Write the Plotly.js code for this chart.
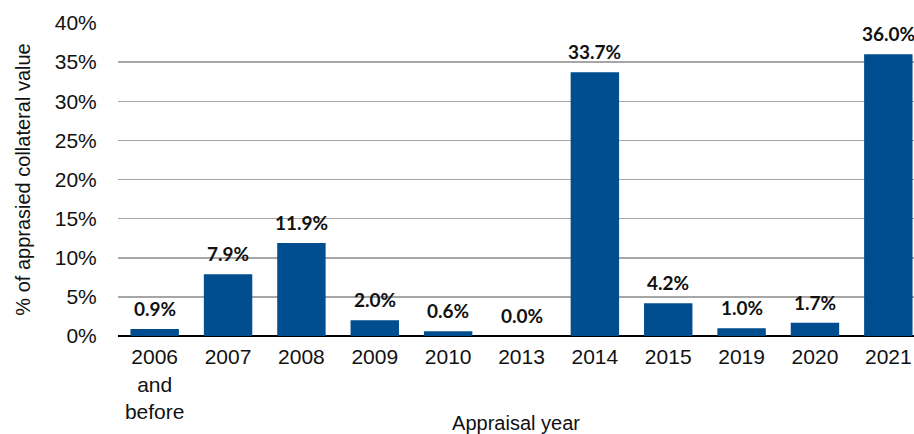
<!DOCTYPE html>
<html>
<head>
<meta charset="utf-8">
<script src="https://cdn.plot.ly/plotly-3.0.1.min.js"></script>
<style>html,body{margin:0;padding:0;background:#fff;}#chart{width:914px;height:434px;}</style>
</head>
<body>
<div id="chart"></div>
<script>
const categories = ["2006<br>and<br>before","2007","2008","2009","2010","2013","2014","2015","2019","2020","2021"];
const values = [0.9, 7.9, 11.9, 2.0, 0.6, 0.0, 33.7, 4.2, 1.0, 1.7, 36.0];
const yTickVals = [0, 5, 10, 15, 20, 25, 30, 35, 40];
const yTickText = ["0%","5%","10%","15%","20%","25%","30%","35%","40%"];
const labels = values.map(v => v.toFixed(1) + "%");
const xIdx = categories.map((c, i) => i);

const trace = {
  type: "bar",
  x: xIdx,
  y: values,
  marker: {color: "#004D8F"},
  width: 0.66,
  hoverinfo: "none"
};

const annotations = values.map((v, i) => ({
  x: xIdx[i], y: v, xref: "x", yref: "y",
  text: "<b>" + labels[i] + "</b>",
  showarrow: false, yanchor: "bottom", yshift: 7,
  font: {family: "Lato, 'Open Sans', sans-serif", size: 19, color: "#111"}
}));

const layout = {
  width: 914, height: 434,
  margin: {l: 118, r: 0, t: 23, b: 98},
  paper_bgcolor: "#fff", plot_bgcolor: "#fff",
  showlegend: false,
  font: {family: "'Liberation Sans', Arial, sans-serif", size: 21, color: "#111"},
  annotations: annotations,
  xaxis: {
    range: [-0.5, 10.35],
    tickvals: xIdx,
    ticktext: categories,
    showgrid: false, zeroline: false,
    showline: false, ticks: "outside", ticklen: 2, tickcolor: "rgba(0,0,0,0)",
    tickfont: {size: 21},
    title: {text: "Appraisal year", font: {size: 20}, standoff: 2}
  },
  yaxis: {
    range: [0, 40],
    tickvals: yTickVals, ticktext: yTickText,
    showgrid: true, gridcolor: "#A6A6A6", gridwidth: 1.5,
    zeroline: true, zerolinecolor: "#000", zerolinewidth: 2,
    showline: false, ticks: "outside", ticklen: 16, tickcolor: "rgba(0,0,0,0)",
    tickfont: {size: 21},
    title: {text: "% of apprasied collateral value", font: {size: 20}, standoff: 18}
  }
};

Plotly.newPlot("chart", [trace], layout, {displayModeBar: false, staticPlot: true});
</script>
</body>
</html>
